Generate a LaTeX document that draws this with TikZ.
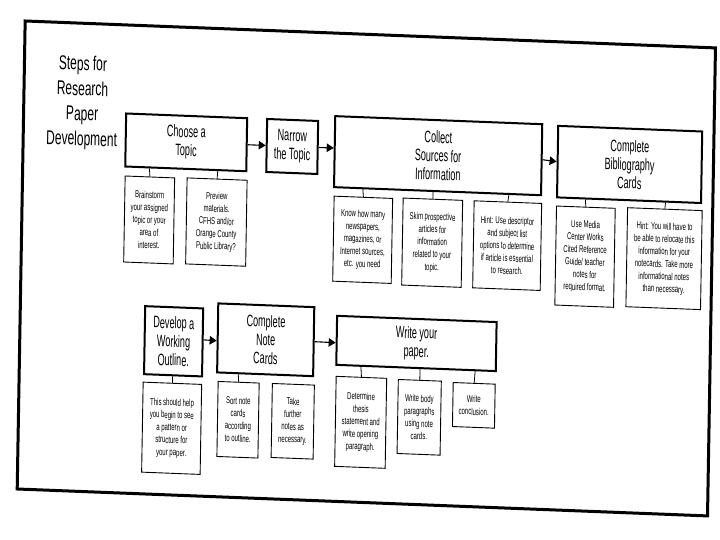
\documentclass[tikz,border=0pt]{standalone}
\usepackage{fontspec}
\setmainfont{Liberation Sans}
\newfontfamily\mainf[FakeStretch=0.55]{Liberation Sans}
\newfontfamily\titlef[FakeStretch=0.6]{Liberation Sans}
\newfontfamily\subf[FakeStretch=0.6]{Liberation Sans}
\usetikzlibrary{arrows.meta,calc}
\tikzset{
  mainbox/.style={draw, line width=2pt, inner sep=0pt, align=center,
    font=\mainf\fontsize{16.5}{18.5}\selectfont},
  subbox/.style={draw, line width=0.9pt, inner sep=0pt, align=center,
    font=\subf\fontsize{10}{12.5}\selectfont},
  titletext/.style={align=center, inner sep=0pt, font=\titlef\fontsize{20}{25}\selectfont},
  link/.style={line width=0.8pt},
  flow/.style={line width=1.1pt, -{Triangle[length=7pt,width=8.5pt]}},
  frameline/.style={line width=3pt},
}
\begin{document}
\begin{tikzpicture}[x=1pt,y=1pt]
\useasboundingbox (0,0) rectangle (720,-540);
\begin{scope}[cm={1,-0.039,0.017,1,(0pt,0pt)}, transform shape]
  % outer frame
  \draw[frameline] (25.5,-20) rectangle (715.8,-488);

  % title
  \node[titletext] (title) at (84,-99.5) {Steps for\\Research\\Paper\\Development};

  % top row
  \node[mainbox, minimum width=121, minimum height=53] (choose) at (188.5,-135) {Choose a\\Topic};
  \node[mainbox, minimum width=51, minimum height=53] (narrow) at (294.5,-135) {Narrow\\the Topic};
  \node[mainbox, minimum width=207, minimum height=71] (collect) at (440.5,-138.5) {Collect\\Sources for\\Information};
  \node[mainbox, minimum width=144, minimum height=71.5] (bib) at (632,-139.8) {Complete\\Bibliography\\Cards};

  % children of top row
  \node[subbox, minimum width=49.5, minimum height=86] (c1) at (152.8,-214) {Brainstorm\\your assigned\\topic or your\\area of\\interest.};
  \node[subbox, minimum width=60, minimum height=86] (c2) at (220,-213.5) {Preview\\materials.\\CFHS and/or\\Orange County\\Public Library?};
  \node[subbox, minimum width=58.5, minimum height=85] (k1) at (366.5,-225.5) {Know how many\\newspapers,\\magazines, or\\Internet sources,\\etc. you need};
  \node[subbox, minimum width=59.5, minimum height=87] (k2) at (436,-225.7) {Skim prospective\\articles for\\information\\related to your\\topic.};
  \node[subbox, minimum width=67.5, minimum height=87] (k3) at (511,-225.7) {Hint: Use descriptor\\and subject list\\options to determine\\if article is essential\\to research.};
  \node[subbox, minimum width=58.7, minimum height=99] (b1) at (589,-233.7) {Use Media\\Center Works\\Cited Reference\\Guide/ teacher\\notes for\\required format.};
  \node[subbox, minimum width=74.6, minimum height=99] (b2) at (668,-232.6) {Hint: You will have to\\be able to relocate this\\information for your\\notecards. Take more\\informational notes\\than necessary.};

  % bottom row
  \node[mainbox, minimum width=58, minimum height=68] (develop) at (179.3,-334.3) {Develop a\\Working\\Outline.};
  \node[mainbox, minimum width=96, minimum height=69] (note) at (271.3,-329.2) {Complete\\Note\\Cards};
  \node[mainbox, minimum width=159.5, minimum height=49] (write) at (422,-327) {Write your\\paper.};

  % children of bottom row
  \node[subbox, minimum width=58.5, minimum height=90] (d1) at (178.8,-421.3) {This should help\\you begin to see\\a pattern or\\structure for\\your paper.};
  \node[subbox, minimum width=41, minimum height=75] (n1) at (245,-410.2) {Sort note\\cards\\according\\to outline.};
  \node[subbox, minimum width=42, minimum height=74] (n2) at (299.7,-409.6) {Take\\further\\notes as\\necessary.};
  \node[subbox, minimum width=50.5, minimum height=90] (w1) at (367.6,-408) {Determine\\thesis\\statement and\\write opening\\paragraph.};
  \node[subbox, minimum width=43, minimum height=74] (w2) at (426,-400.7) {Write body\\paragraphs\\using note\\cards.};
  \node[subbox, minimum width=42, minimum height=44] (w3) at (480.4,-386.6) {Write\\conclusion.};
\end{scope}

% flow arrows
\draw[flow] (choose.east) -- (narrow.west);
\draw[flow] (narrow.east) -- ($(collect.north west)!0.45!(collect.south west)$);
\draw[flow] (collect.east) -- (bib.west);
\draw[flow] ($(develop.north east)!0.463!(develop.south east)$) -- ($(note.north west)!0.54!(note.south west)$);
\draw[flow] (note.east) -- ($(write.north west)!0.547!(write.south west)$);

% connectors to detail boxes
\draw[link] (c1.north) -- ($(choose.south west)!0.205!(choose.south east)$);
\draw[link] (c2.north) -- ($(choose.south west)!0.76!(choose.south east)$);
\draw[link] (k1.north) -- ($(collect.south west)!0.1425!(collect.south east)$);
\draw[link] (k2.north) -- ($(collect.south west)!0.478!(collect.south east)$);
\draw[link] (k3.north) -- ($(collect.south west)!0.841!(collect.south east)$);
\draw[link] (b1.north) -- ($(bib.south west)!0.201!(bib.south east)$);
\draw[link] (b2.north) -- ($(bib.south west)!0.75!(bib.south east)$);
\draw[link] (d1.north) -- ($(develop.south west)!0.491!(develop.south east)$);
\draw[link] (n1.north) -- ($(note.south west)!0.226!(note.south east)$);
\draw[link] (w1.north) -- ($(write.south west)!0.159!(write.south east)$);
\draw[link] (w2.north) -- ($(write.south west)!0.525!(write.south east)$);
\draw[link] (w3.north) -- ($(write.south west)!0.866!(write.south east)$);
\end{tikzpicture}
\end{document}
